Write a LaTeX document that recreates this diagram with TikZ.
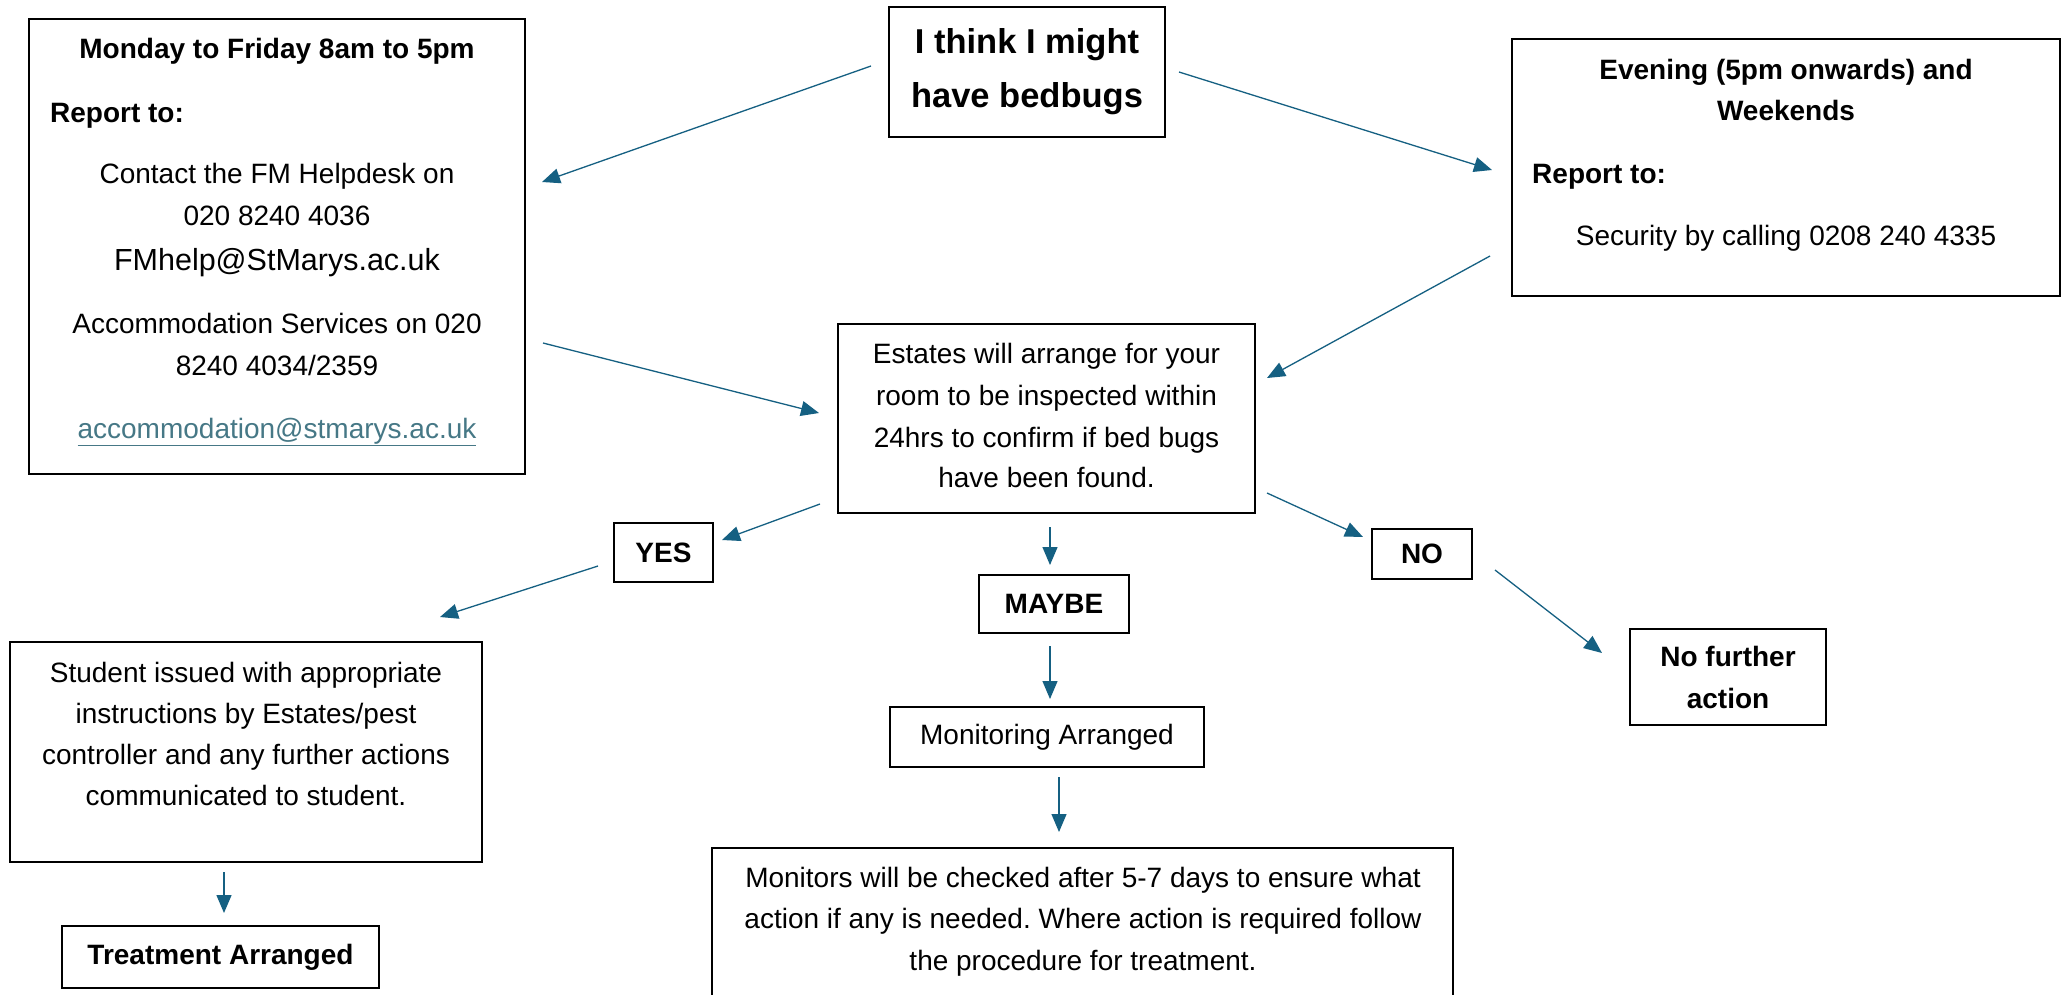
\documentclass[tikz,border=0pt]{standalone}
\usepackage{fontspec}
\setmainfont{Liberation Sans}
\usetikzlibrary{arrows.meta}
\frenchspacing
\definecolor{arr}{HTML}{156082}
\definecolor{lnk}{HTML}{467886}
\tikzset{
  box/.style={draw=black, line width=1.6pt, rectangle, inner sep=0pt},
  conn/.style={draw=arr, line width=1.3pt, -{Triangle[length=18pt,width=15pt]}},
  txt/.style={inner sep=0pt, anchor=base, font=\fontsize{28}{42}\selectfont},
  btxt/.style={inner sep=0pt, anchor=base, font=\fontsize{28}{42}\selectfont\bfseries},
}
\begin{document}
\begin{tikzpicture}[x=1pt,y=-1pt]
\useasboundingbox (0,0) rectangle (2066,994);
\clip (0,0) rectangle (2066,994);
\fill[white] (0,0) rectangle (2066,994);

% ---- boxes ----
\node[box, minimum width=496pt, minimum height=455pt] (mon) at (277,246.5) {};
\node[box, minimum width=276pt, minimum height=130pt, align=center,
      font=\fontsize{34.5}{54}\selectfont\bfseries] (start) at (1027,72) {I think I might\\have bedbugs};
\node[box, minimum width=548pt, minimum height=257pt] (eve) at (1786,167.5) {};
\node[box, minimum width=417pt, minimum height=189pt] (est) at (1046.5,418.5) {};
\node[box, minimum width=99pt, minimum height=59pt, font=\fontsize{28}{42}\selectfont\bfseries] (yes) at (663.5,552.5) {YES};
\node[box, minimum width=150pt, minimum height=58pt, font=\fontsize{28}{42}\selectfont\bfseries] (maybe) at (1054,604) {MAYBE};
\node[box, minimum width=100pt, minimum height=50pt, font=\fontsize{28}{42}\selectfont\bfseries] (no) at (1422,554) {NO};
\node[box, minimum width=196pt, minimum height=96pt, align=center,
      font=\fontsize{28}{42}\selectfont\bfseries] (nfa) at (1728,677) {No further\\action};
\node[box, minimum width=472pt, minimum height=220pt] (student) at (246,752) {};
\node[box, minimum width=317pt, minimum height=62pt, font=\fontsize{28}{42}\selectfont\bfseries] (treat) at (220.5,957) {Treatment Arranged};
\node[box, minimum width=314pt, minimum height=60pt, font=\fontsize{28}{42}\selectfont] (monit) at (1047,737) {Monitoring Arranged};
\node[box, minimum width=741pt, minimum height=170pt] (monitors) at (1082.5,933) {};

% ---- texts in boxes ----
\node[btxt] (mon1) at (277,58) {Monday to Friday 8am to 5pm};
\node[btxt, anchor=base west] (mon2) at (50,122) {Report to:};
\node[txt] (mon3) at (277,183) {Contact the FM Helpdesk on};
\node[txt] (mon4) at (277,225) {020 8240 4036};
\node[txt, font=\fontsize{30.5}{40}\selectfont] (mon5) at (277,270) {FMhelp@StMarys.ac.uk};
\node[txt] (mon6) at (277,333) {Accommodation Services on 020};
\node[txt] (mon7) at (277,375) {8240 4034/2359};
\node[txt, text=lnk] (mon8) at (277,438) {\underline{accommodation@stmarys.ac.uk}};

\node[btxt] (eve1) at (1786,79) {Evening (5pm onwards) and};
\node[btxt] (eve2) at (1786,120) {Weekends};
\node[btxt, anchor=base west] (eve3) at (1532,183) {Report to:};
\node[txt] (eve4) at (1786,245) {Security by calling 0208 240 4335};

\node[txt] (est1) at (1046.5,363) {Estates will arrange for your};
\node[txt] (est2) at (1046.5,405) {room to be inspected within};
\node[txt] (est3) at (1046.5,447) {24hrs to confirm if bed bugs};
\node[txt] (est4) at (1046.5,487) {have been found.};

\node[txt] (stu1) at (246,682) {Student issued with appropriate};
\node[txt] (stu2) at (246,723) {instructions by Estates/pest};
\node[txt] (stu3) at (246,764) {controller and any further actions};
\node[txt] (stu4) at (246,805) {communicated to student.};

\node[txt] (mts1) at (1083,887) {Monitors will be checked after 5-7 days to ensure what};
\node[txt] (mts2) at (1083,928) {action if any is needed. Where action is required follow};
\node[txt] (mts3) at (1083,970) {the procedure for treatment.};

% ---- connector end points ----
\coordinate (c1s) at (871,66);    \coordinate (c1e) at (542,182);
\coordinate (c2s) at (1179,72);   \coordinate (c2e) at (1492,170);
\coordinate (c3s) at (543,343);   \coordinate (c3e) at (819,413);
\coordinate (c4s) at (1490,256);  \coordinate (c4e) at (1267,378);
\coordinate (c5s) at (820,504);   \coordinate (c5e) at (722,540);
\coordinate (c6s) at (598,566);   \coordinate (c6e) at (440,617);
\coordinate (c7s) at (1050,527);  \coordinate (c7e) at (1050,565);
\coordinate (c8s) at (1267,493);  \coordinate (c8e) at (1363,537);
\coordinate (c9s) at (1495,570);  \coordinate (c9e) at (1602,653);
\coordinate (c10s) at (1050,646); \coordinate (c10e) at (1050,699);
\coordinate (c11s) at (1059,777); \coordinate (c11e) at (1059,832);
\coordinate (c12s) at (224,872);  \coordinate (c12e) at (224,913);

\draw[conn] (c1s) -- (c1e);
\draw[conn] (c2s) -- (c2e);
\draw[conn] (c3s) -- (c3e);
\draw[conn] (c4s) -- (c4e);
\draw[conn] (c5s) -- (c5e);
\draw[conn] (c6s) -- (c6e);
\draw[conn] (c7s) -- (c7e);
\draw[conn] (c8s) -- (c8e);
\draw[conn] (c9s) -- (c9e);
\draw[conn] (c10s) -- (c10e);
\draw[conn] (c11s) -- (c11e);
\draw[conn] (c12s) -- (c12e);
\end{tikzpicture}
\end{document}
